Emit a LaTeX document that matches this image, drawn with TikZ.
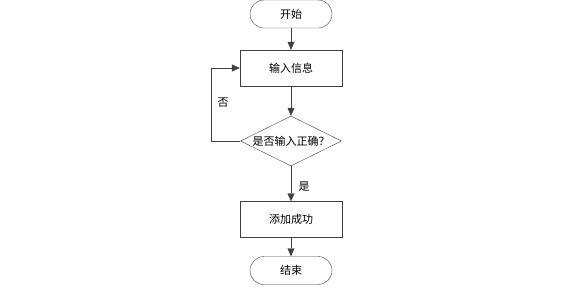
\documentclass[tikz,border=0pt]{standalone}
\usepackage{fontspec}
\setmainfont{Noto Sans CJK SC}
\usetikzlibrary{shapes.geometric,arrows.meta}
\definecolor{linegray}{HTML}{404040}
\tikzset{
  terminal/.style={draw=linegray, rounded corners=14pt, minimum width=82pt, minimum height=28pt, inner sep=0pt},
  process/.style={draw=linegray, minimum width=102pt, minimum height=36pt, inner sep=0pt},
  decision/.style={draw=linegray, diamond, aspect=2, minimum width=101pt, minimum height=50pt, inner sep=0pt},
  flow/.style={draw=linegray, -{Triangle[length=8pt,width=7pt]}}
}
\begin{document}
\begin{tikzpicture}[x=1pt,y=-1pt, font=\fontsize{11}{13}\selectfont]
\useasboundingbox (0,0) rectangle (567,290);
\node[terminal] (start) at (291,14) {开始};
\node[process] (input) at (291,68) {输入信息};
\node[decision] (check) at (291,141) {是否输入正确？};
\node[process] (ok) at (291,219.5) {添加成功};
\node[terminal] (stop) at (291,270.5) {结束};
\coordinate (loop) at (211,141);
\draw[flow] (start) -- (input);
\draw[flow] (input) -- (check);
\draw[flow] (check) -- (ok);
\draw[flow] (ok) -- (stop);
\draw[flow] (check.west) -- (loop) |- (input.west);
\node at (223,103) {否};
\node at (304,187) {是};
\end{tikzpicture}
\end{document}
